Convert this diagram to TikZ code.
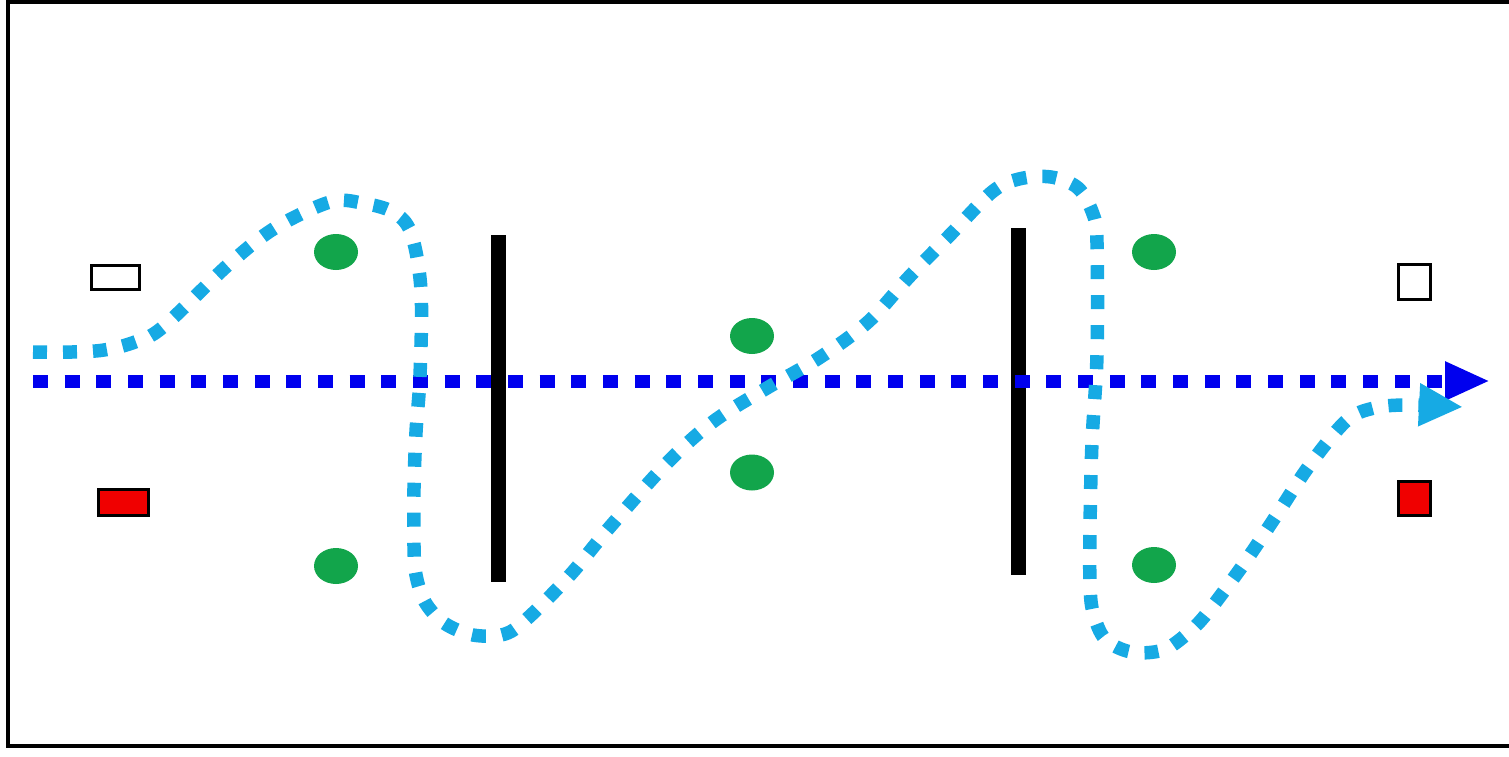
\documentclass[tikz,border=0pt]{standalone}
\usetikzlibrary{shapes.geometric,arrows.meta}
\definecolor{lightpath}{RGB}{22,170,228}
\definecolor{darkpath}{RGB}{0,0,238}
\definecolor{cone}{RGB}{18,165,75}
\definecolor{marker}{RGB}{240,0,0}
\tikzset{
  frameline/.style={line width=4.5pt, black},
  barline/.style={line width=15pt, black},
  conedot/.style={ellipse, fill=cone, inner sep=0pt, minimum width=44pt, minimum height=36pt},
  emptybox/.style={rectangle, draw=black, fill=white, line width=3pt, inner sep=0pt},
  redbox/.style={rectangle, draw=black, fill=marker, line width=3pt, inner sep=0pt},
  straightpath/.style={darkpath, line width=13pt, dash pattern=on 15pt off 16.67pt, -{Triangle[length=45pt,width=36pt]}},
  weavepath/.style={lightpath, line width=13.5pt, dash pattern=on 14pt off 16pt, -{Triangle[length=44pt,width=40pt]}}
}
\begin{document}
\begin{tikzpicture}[x=1pt,y=-1pt]
\useasboundingbox (0,0) rectangle (1509,757);
% frame (right side runs off the picture)
\coordinate (ftr) at (1515,1.5);
\coordinate (ftl) at (8,1.5);
\coordinate (fbl) at (8,746);
\coordinate (fbr) at (1515,746);
\draw[frameline] (ftr) -- (ftl) -- (fbl) -- (fbr);

% markers
\node[emptybox, minimum width=48pt, minimum height=24pt] (wl) at (115.5,277.5) {};
\node[redbox, minimum width=50pt, minimum height=26pt] (rl) at (123.5,502.5) {};
\node[emptybox, minimum width=32pt, minimum height=35pt] (wr) at (1414.5,282) {};
\node[redbox, minimum width=32pt, minimum height=34pt] (rr) at (1414.5,498.5) {};

% cones
\node[conedot] (c1) at (336,252) {};
\node[conedot] (c2) at (336,566) {};
\node[conedot] (c3) at (752,336) {};
\node[conedot] (c4) at (752,472.5) {};
\node[conedot] (c5) at (1154,252) {};
\node[conedot] (c6) at (1154,565) {};

% gates
\coordinate (g1t) at (498,235);
\coordinate (g1b) at (498,582);
\coordinate (g2t) at (1018,228);
\coordinate (g2b) at (1018,575);
\draw[barline] (g1t) -- (g1b);
\draw[barline] (g2t) -- (g2b);

% straight path
\coordinate (sa) at (33,381);
\coordinate (sb) at (1490,381);
\draw[straightpath] (sa) -- (sb);

% weaving path
\draw[weavepath] plot[smooth, tension=0.55] coordinates {
 (33,352) (72,352) (104,350) (135,342) (163,327) (228,265) (275,228)
 (330,202) (362,203) (393,212) (411,233) (421,290) (420,376) (416,432)
 (414,488) (414,546) (416,575) (425,602) (444,623) (473,635) (505,634)
 (529,617) (571,574) (609,528) (668,462) (714,421) (767,388) (819,358)
 (868,322) (909,277) (950,235) (992,192) (1019,179) (1051,177) (1078,188)
 (1093,214) (1097,243) (1097,355) (1092,442) (1090,527) (1090,584)
 (1093,612) (1105,639) (1131,652) (1163,650) (1188,633) (1208,612)
 (1243,565) (1276,516) (1309,466) (1346,421) (1374,408) (1407,405) (1463,407)};
\end{tikzpicture}
\end{document}
